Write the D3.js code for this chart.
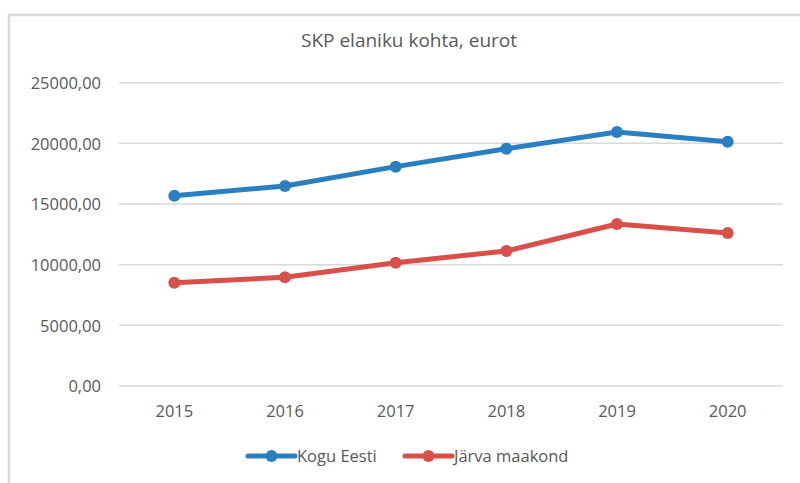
<!DOCTYPE html>
<html><head><meta charset="utf-8">
<script src="https://cdn.jsdelivr.net/npm/d3@7"></script>
<style>
body{margin:0;background:#fff;}
svg{display:block;font-family:"Open Sans","Noto Sans",sans-serif;}
</style></head>
<body>
<svg id="chart" width="800" height="483"></svg>
<script>
const categories = ["2015","2016","2017","2018","2019","2020"];
const koguEesti = [15690, 16480, 18080, 19560, 20940, 20140];
const jarvaMaakond = [8520, 8960, 10160, 11130, 13350, 12610];
const yTicks = [0, 5000, 10000, 15000, 20000, 25000];
const seriesNames = ["Kogu Eesti", "Järva maakond"];
const colors = ["#2a7fc3", "#d9504b"];
const title = "SKP elaniku kohta, eurot";

const svg = d3.select("#chart");
// frame
svg.append("rect").attr("x",9).attr("y",15).attr("width",800).attr("height",480)
  .attr("fill","#fff").attr("stroke","#d9d9d9").attr("stroke-width",2.5);

const pLeft = 119, pRight = 783, pTop = 82.7, pBottom = 386;
const x = d3.scaleBand().domain(categories).range([pLeft, pRight]);
const y = d3.scaleLinear().domain([0, 25000]).range([pBottom, pTop]);

// gridlines
svg.append("g").selectAll("line").data(yTicks).join("line")
  .attr("x1", pLeft).attr("x2", pRight)
  .attr("y1", d => y(d)).attr("y2", d => y(d))
  .attr("stroke", "#d9d9d9").attr("stroke-width", 1.5);

// y axis labels
const fmt = d => d.toFixed(2).replace(".", ",");
const yAxis = d3.axisLeft(y).tickValues(yTicks).tickFormat(fmt).tickSize(0).tickPadding(0);
const gy = svg.append("g").attr("transform", `translate(${pLeft - 18},0)`).call(yAxis);
gy.select(".domain").remove();
gy.selectAll("text").attr("fill", "#595959").style("font-size", "16.5px")
  .style("font-family", '"Open Sans","Noto Sans",sans-serif').attr("dy", "0.35em");

// x axis labels
const xAxis = d3.axisBottom(x).tickSize(0).tickPadding(0);
const gx = svg.append("g").attr("transform", `translate(0,${pBottom + 19})`).call(xAxis);
gx.select(".domain").remove();
gx.selectAll("text").attr("fill", "#595959").style("font-size", "16.5px")
  .style("font-family", '"Open Sans","Noto Sans",sans-serif').attr("dy", "0.71em");

// title
svg.append("text").attr("x", 409).attr("y", 47).attr("text-anchor", "middle")
  .attr("fill", "#595959").style("font-size", "19px").text(title);

// lines
const series = [koguEesti, jarvaMaakond];
const line = d3.line().x((d, i) => x(categories[i]) + x.bandwidth() / 2).y(d => y(d));
series.forEach((s, k) => {
  svg.append("path").datum(s).attr("d", line).attr("fill", "none")
    .attr("stroke", colors[k]).attr("stroke-width", 5).attr("stroke-linejoin", "round").attr("stroke-linecap","round");
  svg.append("g").selectAll("circle").data(s).join("circle")
    .attr("cx", (d, i) => x(categories[i]) + x.bandwidth() / 2).attr("cy", d => y(d))
    .attr("r", 6).attr("fill", colors[k]);
});

// legend
const legendItems = [{x0: 248, tx: 297}, {x0: 405, tx: 454}];
legendItems.forEach((it, k) => {
  const ly = 456;
  svg.append("line").attr("x1", it.x0).attr("x2", it.x0 + 47).attr("y1", ly).attr("y2", ly)
    .attr("stroke", colors[k]).attr("stroke-width", 5).attr("stroke-linecap","round");
  svg.append("circle").attr("cx", it.x0 + 23.5).attr("cy", ly).attr("r", 6).attr("fill", colors[k]);
  svg.append("text").attr("x", it.tx).attr("y", ly).attr("dy", "0.35em")
    .attr("fill", "#595959").style("font-size", "16.5px").text(seriesNames[k]);
});
</script>
</body></html>
